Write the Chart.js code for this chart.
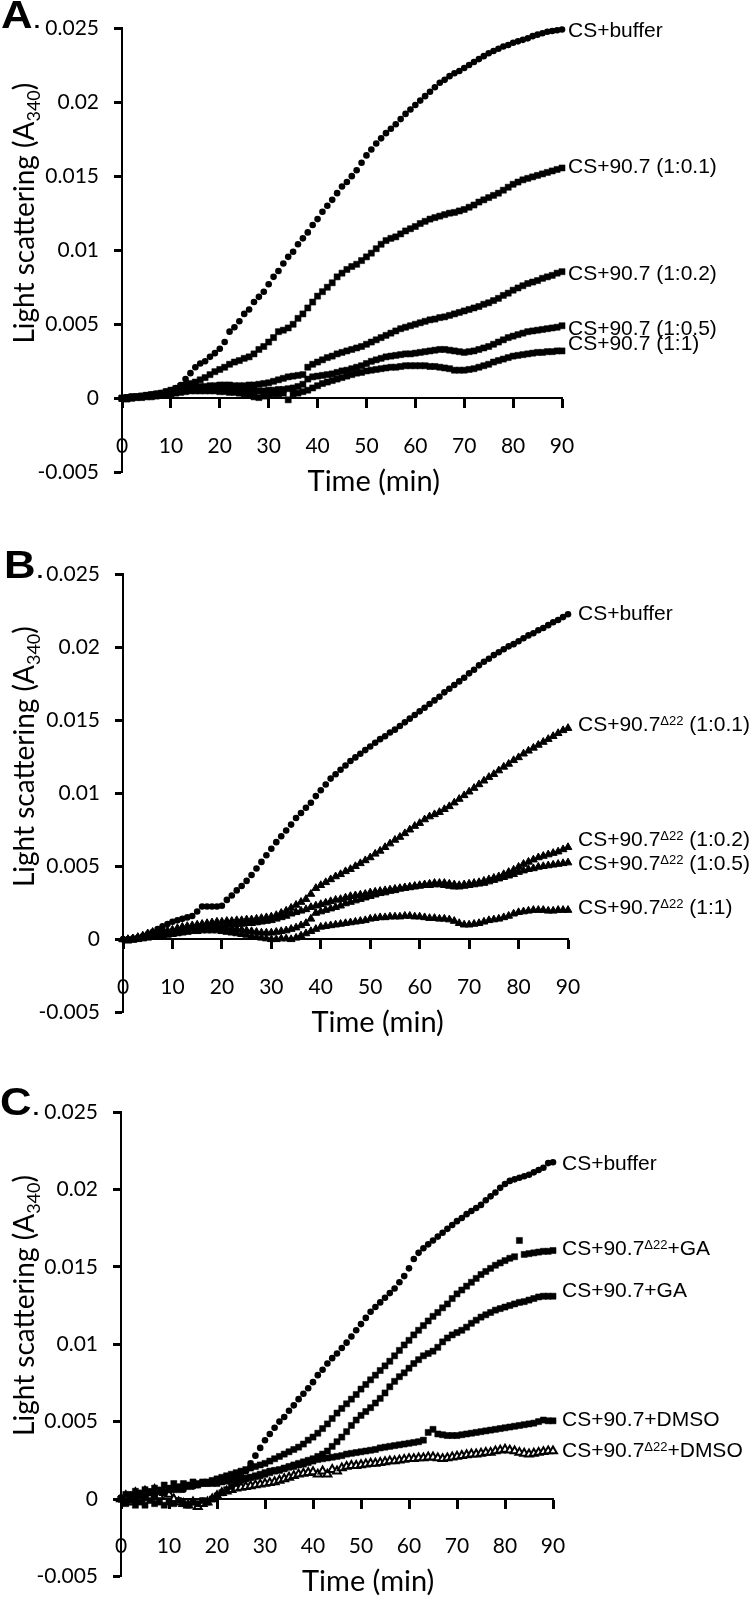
<!DOCTYPE html>
<html><head><meta charset="utf-8">
<script src="https://cdn.jsdelivr.net/npm/chart.js@4"></script>
<style>
html,body{margin:0;padding:0;background:#fff;}
body{width:753px;height:1604px;position:relative;overflow:hidden;}
canvas{position:absolute;left:0;}
</style></head><body>
<canvas id="cA" width="753" height="500" style="top:0px;width:753px;height:500px"></canvas>
<canvas id="cB" width="753" height="520" style="top:520px;width:753px;height:520px"></canvas>
<canvas id="cC" width="753" height="544" style="top:1060px;width:753px;height:544px"></canvas>
<script>
// ---- DATA (light scattering, in units of 0.001 A340; one reading per minute) ----
const minutes = [0,1,2,3,4,5,6,7,8,9,10,11,12,13,14,15,16,17,18,19,20,21,22,23,24,25,26,27,28,29,30,31,32,33,34,35,36,37,38,39,40,41,42,43,44,45,46,47,48,49,50,51,52,53,54,55,56,57,58,59,60,61,62,63,64,65,66,67,68,69,70,71,72,73,74,75,76,77,78,79,80,81,82,83,84,85,86,87,88,89,90];
const xTickVals = [0,10,20,30,40,50,60,70,80,90];
const xTickLabels = ['0','10','20','30','40','50','60','70','80','90'];
const yTickVals = [-0.005,0,0.005,0.01,0.015,0.02,0.025];
const yTickLabels = ['-0.005','0','0.005','0.01','0.015','0.02','0.025'];
const MILLI = 0.001;

// Panel A
const A_buffer = [0,0.05,0.1,0.1,0.15,0.2,0.25,0.3,0.35,0.45,
 0.55,0.7,0.9,1.3,1.7,2.1,2.35,2.5,2.8,3.05,
 3.35,3.8,4.5,4.8,5.2,5.7,6.0,6.5,6.85,7.2,
 7.7,8.2,8.6,9.1,9.55,9.9,10.4,10.8,11.2,11.7,
 12.1,12.6,13.0,13.4,13.85,14.3,14.6,15.0,15.4,15.9,
 16.4,16.8,17.2,17.55,17.9,18.2,18.5,18.85,19.2,19.5,
 19.8,20.1,20.4,20.7,21.0,21.3,21.5,21.75,21.95,22.1,
 22.3,22.5,22.7,22.9,23.1,23.3,23.45,23.6,23.75,23.85,
 24.0,24.1,24.2,24.3,24.45,24.55,24.65,24.75,24.8,24.85,
 24.9];
const A_r01 = [0,0.05,0.1,0.1,0.15,0.2,0.25,0.3,0.35,0.45,
 0.55,0.65,0.8,0.9,1.0,1.1,1.25,1.4,1.6,1.8,
 1.95,2.1,2.3,2.45,2.55,2.7,2.8,3.0,3.3,3.5,
 3.8,4.1,4.5,4.6,4.75,5.0,5.4,5.7,6.1,6.5,
 6.9,7.2,7.5,7.8,8.2,8.45,8.7,8.9,9.05,9.3,
 9.55,9.8,10.1,10.4,10.65,10.8,10.9,11.1,11.3,11.45,
 11.6,11.8,11.95,12.1,12.2,12.3,12.4,12.5,12.55,12.65,
 12.75,12.9,13.05,13.25,13.4,13.55,13.7,13.85,14.05,14.25,
 14.45,14.6,14.75,14.85,14.95,15.05,15.15,15.25,15.35,15.45,
 15.55];
const A_r02 = [0,0.05,0.1,0.1,0.15,0.2,0.2,0.25,0.3,0.35,
 0.45,0.5,0.6,0.65,0.7,0.75,0.8,0.8,0.85,0.85,
 0.9,0.9,0.9,0.85,0.85,0.85,0.9,0.9,0.95,1.0,
 1.05,1.15,1.25,1.35,1.45,1.5,1.55,1.6,2.1,2.3,
 2.45,2.6,2.75,2.85,3.0,3.1,3.2,3.3,3.4,3.5,
 3.65,3.8,3.95,4.1,4.25,4.4,4.55,4.7,4.8,4.9,
 5.0,5.1,5.2,5.3,5.35,5.45,5.5,5.6,5.7,5.8,
 5.9,6.0,6.1,6.2,6.35,6.45,6.6,6.75,6.95,7.1,
 7.3,7.45,7.6,7.75,7.85,7.95,8.1,8.2,8.3,8.45,
 8.55];
const A_r05 = [0,0,0.05,0.1,0.1,0.15,0.2,0.2,0.25,0.3,
 0.35,0.4,0.5,0.55,0.6,0.6,0.65,0.65,0.7,0.7,
 0.7,0.7,0.65,0.65,0.6,0.6,0.55,0.5,0.5,0.5,
 0.55,0.55,0.6,0.6,0.65,0.7,0.8,0.95,1.3,1.45,
 1.5,1.55,1.6,1.65,1.75,1.85,1.9,2.0,2.1,2.2,
 2.35,2.5,2.6,2.7,2.8,2.85,2.9,2.95,3.0,3.0,
 3.05,3.1,3.15,3.2,3.25,3.3,3.3,3.25,3.2,3.15,
 3.1,3.15,3.2,3.3,3.4,3.5,3.65,3.8,3.95,4.1,
 4.2,4.3,4.4,4.5,4.55,4.6,4.65,4.7,4.75,4.8,
 4.9];
const A_r1 = [0,-0.05,0,0.05,0.05,0.1,0.1,0.15,0.2,0.25,
 0.3,0.35,0.4,0.45,0.5,0.5,0.5,0.5,0.5,0.5,
 0.45,0.45,0.4,0.4,0.35,0.3,0.25,0.1,0.05,0.15,
 0.2,0.3,0.3,0.35,-0.1,0.3,0.35,0.45,0.55,0.7,
 0.85,1.0,1.1,1.2,1.3,1.4,1.5,1.6,1.7,1.75,
 1.85,1.9,1.95,2.0,2.05,2.1,2.1,2.15,2.2,2.2,
 2.2,2.2,2.2,2.15,2.15,2.1,2.05,2.0,1.9,1.9,
 1.9,1.95,2.0,2.1,2.2,2.3,2.45,2.55,2.65,2.75,
 2.85,2.9,2.95,3.0,3.05,3.1,3.1,3.15,3.15,3.2,
 3.2];

// Panel B
const B_buffer = [0,0,0.05,0.1,0.2,0.35,0.5,0.7,0.9,1.05,
 1.2,1.3,1.4,1.5,1.6,1.9,2.25,2.25,2.25,2.25,
 2.3,2.7,3.0,3.35,3.65,4.0,4.4,4.85,5.3,5.75,
 6.2,6.65,7.05,7.45,7.85,8.3,8.65,9.0,9.35,9.8,
 10.2,10.6,11.0,11.3,11.6,11.9,12.2,12.45,12.7,12.95,
 13.2,13.45,13.7,13.9,14.15,14.35,14.6,14.85,15.1,15.35,
 15.6,15.85,16.1,16.35,16.6,16.9,17.15,17.4,17.65,17.9,
 18.2,18.45,18.75,19.0,19.2,19.45,19.65,19.85,20.05,20.2,
 20.4,20.6,20.8,20.95,21.15,21.3,21.5,21.7,21.85,22.05,
 22.25];
const B_r01 = [0,0,0.05,0.15,0.25,0.4,0.5,0.55,0.6,0.6,
 0.65,0.75,0.85,0.9,0.95,1.0,1.05,1.1,1.15,1.2,
 1.2,1.25,1.25,1.3,1.3,1.35,1.35,1.4,1.45,1.5,
 1.55,1.65,1.8,1.95,2.15,2.35,2.55,2.75,3.1,3.5,
 3.7,3.9,4.1,4.3,4.45,4.65,4.8,5.0,5.2,5.4,
 5.6,5.85,6.05,6.3,6.55,6.8,7.0,7.25,7.5,7.75,
 7.95,8.2,8.4,8.55,8.7,8.9,9.1,9.35,9.6,9.85,
 10.1,10.35,10.6,10.85,11.1,11.3,11.55,11.8,12.0,12.25,
 12.45,12.7,12.9,13.1,13.3,13.5,13.7,13.9,14.1,14.3,
 14.45];
const B_r02 = [0,-0.05,0,0.1,0.15,0.25,0.3,0.35,0.4,0.45,
 0.5,0.55,0.6,0.65,0.7,0.75,0.8,0.85,0.9,0.9,
 0.95,1.0,1.0,1.05,1.05,1.1,1.1,1.15,1.2,1.25,
 1.3,1.4,1.5,1.6,1.75,1.85,1.95,2.05,2.2,2.3,
 2.4,2.5,2.6,2.7,2.75,2.85,2.95,3.0,3.05,3.1,
 3.2,3.25,3.3,3.35,3.4,3.45,3.5,3.55,3.6,3.65,
 3.7,3.75,3.8,3.85,3.85,3.85,3.8,3.75,3.7,3.75,
 3.8,3.85,3.9,4.0,4.1,4.2,4.3,4.45,4.6,4.75,
 4.95,5.15,5.3,5.45,5.6,5.7,5.8,5.9,6.0,6.15,
 6.3];
const B_r05 = [0,0,0.05,0.05,0.1,0.15,0.2,0.25,0.3,0.35,
 0.4,0.45,0.5,0.55,0.6,0.65,0.7,0.7,0.75,0.75,
 0.75,0.75,0.7,0.7,0.65,0.6,0.55,0.5,0.45,0.45,
 0.45,0.5,0.55,0.6,0.7,0.8,0.95,1.1,1.4,1.8,
 1.9,2.0,2.1,2.2,2.3,2.45,2.55,2.65,2.75,2.85,
 2.95,3.05,3.15,3.2,3.3,3.35,3.45,3.5,3.55,3.6,
 3.65,3.7,3.7,3.75,3.75,3.7,3.65,3.6,3.6,3.65,
 3.7,3.75,3.8,3.85,3.95,4.05,4.15,4.25,4.35,4.45,
 4.6,4.7,4.8,4.85,4.95,5.0,5.05,5.1,5.15,5.2,
 5.25];
const B_r1 = [0,-0.1,-0.05,0,0.05,0.1,0.15,0.2,0.25,0.3,
 0.35,0.4,0.45,0.5,0.55,0.55,0.6,0.6,0.6,0.6,
 0.55,0.5,0.45,0.4,0.35,0.3,0.2,0.15,0.1,0.05,
 0,0,0.05,0.05,0,0.1,0.25,0.4,0.55,0.7,
 0.85,0.9,0.95,1.0,1.05,1.1,1.15,1.2,1.25,1.3,
 1.4,1.45,1.5,1.5,1.55,1.55,1.55,1.6,1.6,1.55,
 1.55,1.5,1.45,1.45,1.4,1.4,1.35,1.25,1.1,1.0,
 1.0,1.05,1.1,1.2,1.3,1.35,1.4,1.5,1.6,1.75,
 1.85,1.9,1.95,2.0,2.0,2.0,1.95,1.95,2.0,2.0,
 2.0];

// Panel C
const C_buffer = [0.1,-0.2,0.3,0,0.4,0.2,0.5,0.3,0.6,0.4,
 0.7,0.6,0.8,0.6,0.9,0.8,0.9,1.0,1.0,1.05,
 1.1,1.2,1.25,1.35,1.5,1.65,1.8,2.3,2.8,3.3,
 3.8,4.2,4.6,5.0,5.3,5.7,6.05,6.45,6.8,7.15,
 7.55,8.0,8.35,8.75,9.1,9.4,9.75,10.1,10.5,10.9,
 11.3,11.7,12.1,12.4,12.7,13.0,13.3,13.6,14.0,14.4,
 14.9,15.5,15.9,16.2,16.45,16.7,16.95,17.2,17.45,17.7,
 17.95,18.15,18.4,18.6,18.8,19.0,19.3,19.55,19.8,20.1,
 20.35,20.55,20.65,20.75,20.85,20.95,21.1,21.25,21.4,21.7,
 21.75];
const C_d22GA = [0,-0.2,0.2,-0.1,0.3,0.1,0.4,0.2,0.5,0.4,
 0.6,0.7,0.6,0.8,0.9,0.9,1.0,1.1,1.1,1.2,
 1.3,1.4,1.5,1.6,1.7,1.8,1.9,2.0,2.1,2.2,
 2.3,2.45,2.6,2.75,2.9,3.05,3.2,3.35,3.55,3.8,
 4.0,4.25,4.55,4.85,5.2,5.55,5.85,6.15,6.45,6.75,
 7.1,7.4,7.7,8.0,8.3,8.6,8.9,9.25,9.6,9.95,
 10.25,10.6,10.9,11.2,11.5,11.8,12.05,12.35,12.6,12.95,
 13.25,13.5,13.75,14.0,14.25,14.5,14.7,14.9,15.1,15.25,
 15.4,15.55,15.65,16.7,15.8,15.85,15.9,15.95,16.0,16.0,
 16.05];
const C_GA = [0,-0.3,-0.1,-0.4,-0.2,-0.4,-0.1,-0.3,-0.2,-0.4,
 -0.2,-0.3,-0.1,-0.3,-0.4,-0.2,-0.3,-0.1,-0.2,0,
 0.2,0.4,0.6,0.8,1.0,1.2,1.3,1.4,1.5,1.6,
 1.7,1.8,1.85,1.9,2.0,2.1,2.2,2.3,2.4,2.5,
 2.6,2.75,2.9,3.1,3.4,3.7,4.0,4.35,4.75,5.1,
 5.4,5.65,5.9,6.2,6.5,6.85,7.25,7.6,7.9,8.15,
 8.45,8.75,9.0,9.25,9.4,9.55,9.8,10.15,10.4,10.6,
 10.75,10.9,11.1,11.35,11.55,11.75,11.9,12.05,12.2,12.3,
 12.4,12.5,12.6,12.7,12.75,12.85,12.95,13.05,13.1,13.1,
 13.1];
const C_DMSO = [0,0.3,0.1,0.5,0.2,0.6,0.4,0.7,0.5,0.9,
 0.6,1.0,0.7,1.0,0.8,1.1,0.9,1.0,1.0,1.0,
 1.0,1.1,1.15,1.2,1.25,1.3,1.35,1.4,1.45,1.5,
 1.6,1.7,1.8,1.85,1.95,2.05,2.1,2.2,2.25,2.35,
 2.45,2.55,2.6,2.65,2.7,2.75,2.8,2.9,2.95,3.0,
 3.05,3.1,3.15,3.2,3.3,3.35,3.4,3.45,3.5,3.55,
 3.6,3.65,3.7,3.8,4.3,4.5,4.2,4.15,4.1,4.1,
 4.1,4.15,4.2,4.25,4.3,4.35,4.4,4.45,4.5,4.55,
 4.6,4.65,4.7,4.75,4.8,4.85,4.9,5.0,5.1,5.05,
 5.05];
const C_d22DMSO = [0,0.2,-0.2,0.4,0,0.5,0.1,0.6,0.2,0.4,
 0.3,0,-0.2,-0.3,-0.4,-0.2,-0.5,-0.3,-0.2,0,
 0.2,0.4,0.5,0.6,0.7,0.75,0.8,0.85,0.9,0.95,
 1.0,1.05,1.1,1.2,1.3,1.4,1.5,1.6,1.65,1.7,
 1.75,1.6,1.8,1.6,1.9,1.8,2.0,2.1,2.15,2.15,
 2.2,2.25,2.3,2.3,2.35,2.4,2.45,2.45,2.5,2.55,
 2.6,2.6,2.65,2.65,2.7,2.7,2.65,2.6,2.65,2.7,
 2.75,2.8,2.85,2.9,2.9,2.95,3.0,3.0,3.1,3.15,
 3.2,3.15,3.1,3.0,2.95,2.9,2.95,3.0,3.05,3.1,
 3.1];

// ---- Series names (end labels) ----
const A_names = [
  [['CS+buffer']],
  [['CS+90.7 (1:0.1)']],
  [['CS+90.7 (1:0.2)']],
  [['CS+90.7 (1:0.5)']],
  [['CS+90.7 (1:1)']]
];
const B_names = [
  [['CS+buffer']],
  [['CS+90.7'],['Δ22','sup'],[' (1:0.1)']],
  [['CS+90.7'],['Δ22','sup'],[' (1:0.2)']],
  [['CS+90.7'],['Δ22','sup'],[' (1:0.5)']],
  [['CS+90.7'],['Δ22','sup'],[' (1:1)']]
];
const C_names = [
  [['CS+buffer']],
  [['CS+90.7'],['Δ22','sup'],['+GA']],
  [['CS+90.7+GA']],
  [['CS+90.7+DMSO']],
  [['CS+90.7'],['Δ22','sup'],['+DMSO']]
];

// ---- Layout / styles ----
const panels = [
  {canvas:'cA', letter:'A', series:[A_buffer,A_r01,A_r02,A_r05,A_r1], names:A_names,
   markers:['circle','rect','rect','rect','rect'], nudge:[0,-2,1,2,-8],
   padTop:28, padBottom:21, axisW:122, padRight:191, labelGap:6, letterX:1, letterY:28},
  {canvas:'cB', letter:'B', series:[B_buffer,B_r01,B_r02,B_r05,B_r1], names:B_names,
   markers:['circle','triangle','triangle','triangle','triangle'], nudge:[-2,-5,-9,0,-4],
   padTop:54, padBottom:22, axisW:123, padRight:185, labelGap:10, letterX:4, letterY:58},
  {canvas:'cC', letter:'C', series:[C_buffer,C_d22GA,C_GA,C_DMSO,C_d22DMSO], names:C_names,
   markers:['circle','rect','rect','rect','triangleOpen'], nudge:[0,-3,-7,-2,-2],
   padTop:52, padBottom:26, axisW:121, padRight:200, labelGap:9, letterX:0, letterY:55}
];

Chart.defaults.color = '#000';
Chart.defaults.font.family = 'Lato';

function drawRich(ctx, parts, x, y, align) {
  let total = 0;
  parts.forEach(p => { ctx.font = p.font; total += ctx.measureText(p.t).width; });
  let cx = align === 'center' ? x - total / 2 : x;
  ctx.textAlign = 'left';
  ctx.textBaseline = 'alphabetic';
  parts.forEach(p => { ctx.font = p.font; ctx.fillText(p.t, cx, y + (p.dy || 0)); cx += ctx.measureText(p.t).width; });
}

function makeDataset(arr, marker) {
  const pts = minutes.map((t, i) => ({x: t, y: arr[i] * MILLI}));
  const base = {data: pts, clip: false, showLine: false, borderColor: '#000', pointBorderColor: '#000'};
  if (marker === 'circle') {
    return Object.assign(base, {pointStyle:'circle', pointRadius:3.3,
      pointBackgroundColor:'#000', pointBorderWidth:0});
  }
  if (marker === 'rect') {
    return Object.assign(base, {pointStyle:'rect', pointRadius:4.3,
      pointBackgroundColor:'#000', pointBorderWidth:0.5});
  }
  if (marker === 'triangle') {
    return Object.assign(base, {pointStyle:'triangle', pointRadius:4.5,
      pointBackgroundColor:'#000', pointBorderWidth:1});
  }
  return Object.assign(base, {pointStyle:'triangle', pointRadius:4.6,
    pointBackgroundColor:'#fff', pointBorderWidth:2});
}

panels.forEach(p => {
  const annot = {
    id: 'annot_' + p.letter,
    afterDraw(chart) {
      const ctx = chart.ctx;
      const xs = chart.scales.x, ys = chart.scales.y;
      ctx.save();
      ctx.fillStyle = '#000';
      // panel letter
      ctx.save();
      ctx.translate(p.letterX, p.letterY);
      ctx.scale(1.15, 1);
      ctx.font = 'bold 38px "Liberation Sans", Arial';
      ctx.textAlign = 'left'; ctx.textBaseline = 'alphabetic';
      ctx.fillText(p.letter, 0, 0);
      const lw = ctx.measureText(p.letter).width;
      ctx.font = 'bold 20px "Liberation Sans", Arial';
      ctx.fillText('.', lw + 1, 0);
      ctx.restore();
      // y title (rotated) with subscript
      ctx.save();
      const cy = ys.getPixelForValue(0.0125);
      ctx.translate(34, cy);
      ctx.rotate(-Math.PI / 2);
      drawRich(ctx, [
        {t:'Light scattering (A', font:'28px Lato'},
        {t:'340', font:'18px Lato', dy:6},
        {t:')', font:'28px Lato'}
      ], 0, 0, 'center');
      ctx.restore();
      // x title
      ctx.font = '29px Lato';
      ctx.textAlign = 'center'; ctx.textBaseline = 'middle';
      ctx.fillText('Time (min)', xs.getPixelForValue(51.5), ys.getPixelForValue(0) + 83);
      // series end labels
      const lx = xs.getPixelForValue(90) + p.labelGap;
      p.series.forEach((arr, i) => {
        const yv = ys.getPixelForValue(arr[arr.length - 1] * MILLI) + p.nudge[i];
        const parts = p.names[i].map(n => n[1] === 'sup'
          ? {t:n[0], font:'13px "Liberation Sans", Arial', dy:-6}
          : {t:n[0], font:'21px "Liberation Sans", Arial'});
        drawRich(ctx, parts, lx, yv + 7.5, 'left');
      });
      ctx.restore();
    }
  };
  new Chart(document.getElementById(p.canvas), {
    type: 'scatter',
    data: {datasets: p.series.map((arr, i) => makeDataset(arr, p.markers[i]))},
    options: {
      responsive: false, animation: false, devicePixelRatio: 1,
      layout: {padding: {left: 0, top: p.padTop, right: p.padRight, bottom: p.padBottom}},
      plugins: {legend: {display: false}, tooltip: {enabled: false}},
      scales: {
        x: {
          type: 'linear', min: 0, max: 90, position: {y: 0},
          afterBuildTicks: s => { s.ticks = xTickVals.map(v => ({value: v})); },
          ticks: {font: {family: 'Lato', size: 21}, color: '#000', padding: 26, maxRotation: 0, autoSkip: false,
                  callback: (v, i) => xTickLabels[i]},
          grid: {display: true, drawOnChartArea: false, drawTicks: true, tickLength: 9, tickWidth: 3, tickColor: '#000'},
          border: {display: true, color: '#000', width: 2}
        },
        y: {
          type: 'linear', min: -0.005, max: 0.025, position: 'left',
          afterBuildTicks: s => { s.ticks = yTickVals.map(v => ({value: v})); },
          afterFit: s => { s.width = p.axisW; },
          ticks: {font: {family: 'Lato', size: 21}, color: '#000', padding: 15, autoSkip: false,
                  callback: (v, i) => yTickLabels[i]},
          grid: {display: true, drawOnChartArea: false, drawTicks: true, tickLength: 8, tickWidth: 3, tickColor: '#000'},
          border: {display: true, color: '#000', width: 2}
        }
      }
    },
    plugins: [annot]
  });
});
</script>
</body></html>
